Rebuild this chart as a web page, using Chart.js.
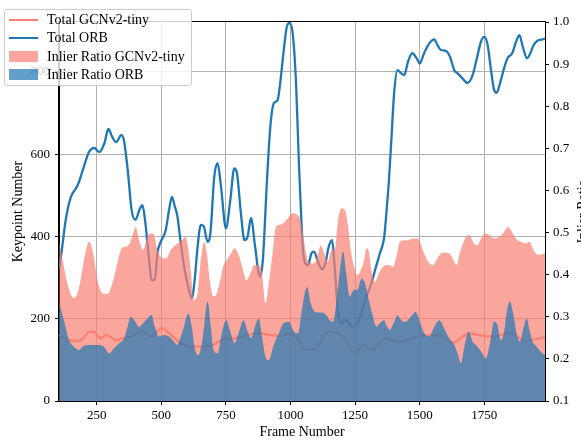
<!DOCTYPE html>
<html>
<head>
<meta charset="utf-8">
<script src="https://cdn.jsdelivr.net/npm/chart.js@4.4.1/dist/chart.umd.min.js"></script>
<style>
html, body { margin: 0; padding: 0; background: #fff; }
#wrap { position: relative; width: 581px; height: 441px; overflow: hidden; }
#chart { position: absolute; left: 0; top: 0; }
.legend { position: absolute; left: 4px; top: 9px; width: 188px; height: 77px; box-sizing: border-box;
  border: 1px solid #cccccc; border-radius: 3px; background: rgba(255,255,255,0.8); }
.item { position: absolute; left: 0; width: 100%; height: 18px; font-family: 'Liberation Serif', serif;
  font-size: 14px; color: #000; }
.item .h { position: absolute; left: 4px; width: 29px; }
.item .h.line { top: 8px; height: 2px; }
.item .h.patch { top: 3px; height: 11px; }
.item .t { position: absolute; left: 42px; top: 0; line-height: 18px; white-space: nowrap; }
</style>
</head>
<body>
<div id="wrap">
  <canvas id="chart" width="581" height="441"></canvas>
  <div class="legend">
    <div class="item" style="top:1px"><div class="h line" style="background:#fa8072"></div><div class="t">Total GCNv2-tiny</div></div>
    <div class="item" style="top:19px"><div class="h line" style="background:#1f77b4"></div><div class="t">Total ORB</div></div>
    <div class="item" style="top:38px"><div class="h patch" style="background:rgba(250,128,114,0.7)"></div><div class="t">Inlier Ratio GCNv2-tiny</div></div>
    <div class="item" style="top:56px"><div class="h patch" style="background:rgba(31,119,180,0.7)"></div><div class="t">Inlier Ratio ORB</div></div>
  </div>
</div>
<script>
// frame numbers and values
var orbFrames = [105,115,130,150,170,180,200,220,240,260,
    280,295,310,325,345,355,370,385,400,415,
    427,437,450,463,475,485,498,517,530,541,
    553,562,575,590,605,618,630,640,653,664,
    679,690,705,718,731,750,767,782,793,808,
    822,834,847,863,881,893,909,922,935,950,
    960,974,986,997,1010,1022,1033,1042,1048,1057,
    1068,1081,1091,1104,1122,1135,1148,1161,1171,1184,
    1197,1210,1223,1238,1255,1274,1294,1313,1329,1346,
    1362,1371,1381,1391,1401,1414,1429,1440,1455,1471,
    1488,1500,1517,1537,1556,1569,1582,1601,1617,1634,
    1647,1663,1685,1705,1720,1737,1750,1763,1776,1788,
    1798,1811,1828,1840,1858,1873,1886,1899,1915,1928,
    1941,1957,1976,1985];
var orbTotal = [323,367,440,496,517,530,569,605,615,605,
    627,661,642,629,646,634,561,464,440,464,
    476,440,360,294,294,360,387,415,464,496,
    471,450,385,320,275,250,300,372,428,425,
    387,408,545,578,521,420,488,565,553,456,
    391,399,445,375,302,343,537,667,723,731,
    772,853,910,919,885,764,570,440,367,335,
    330,359,363,343,320,335,375,391,326,213,
    189,197,193,180,185,213,253,286,322,359,
    395,456,537,642,748,804,796,792,825,845,
    833,820,845,869,879,865,853,851,837,804,
    796,786,773,792,829,873,885,865,804,756,
    749,772,812,833,845,873,889,861,833,845,
    865,876,879,881];

var gcnFrames = [105,140,170,195,220,240,265,285,305,325,
    350,390,420,440,460,485,505,530,560,590,
    620,660,700,740,780,830,880,920,960,1000,
    1030,1055,1081,1110,1145,1197,1223,1249,1281,1313,
    1365,1417,1468,1507,1576,1627,1692,1750,1788,1847,
    1911,1985];
var gcnTotal = [160,148,146,150,168,168,152,160,155,148,
    152,158,170,165,156,170,177,165,148,135,
    132,132,136,150,152,160,165,160,158,165,
    150,124,124,140,168,160,140,116,136,124,
    152,144,152,158,160,142,164,158,156,166,
    146,156];

var gcnRatioFrames = [105,123,143,162,182,201,220,236,253,272,
    291,311,330,347,362,378,391,401,414,430,
    446,459,469,485,504,520,537,553,580,593,
    605,615,625,638,653,666,676,689,702,715,
    731,741,754,770,783,799,816,829,845,860,
    877,890,903,916,929,942,955,972,990,1007,
    1026,1038,1050,1062,1074,1091,1107,1117,1130,1145,
    1158,1171,1184,1197,1210,1223,1233,1246,1259,1272,
    1285,1294,1303,1313,1326,1342,1358,1375,1397,1410,
    1423,1440,1455,1475,1492,1517,1537,1552,1569,1588,
    1614,1627,1643,1655,1676,1692,1708,1724,1737,1754,
    1769,1788,1808,1827,1840,1853,1872,1892,1911,1924,
    1943,1960,1985];
var gcnRatio = [.478,.419,.364,.344,.371,.435,.478,.451,.387,.356,
    .354,.380,.427,.463,.466,.475,.498,.513,.482,.459,
    .490,.498,.498,.459,.439,.439,.459,.470,.482,.490,
    .459,.403,.340,.348,.435,.478,.451,.380,.348,.356,
    .395,.423,.435,.451,.463,.447,.411,.387,.403,.423,
    .423,.403,.332,.380,.443,.510,.518,.522,.534,.546,
    .542,.530,.490,.445,.427,.427,.451,.470,.451,.431,
    .459,.459,.530,.558,.554,.514,.459,.419,.399,.411,
    .435,.463,.456,.411,.383,.403,.419,.423,.419,.443,
    .478,.482,.482,.486,.486,.451,.427,.423,.439,.452,
    .451,.439,.423,.451,.486,.494,.476,.470,.486,.498,
    .494,.486,.490,.502,.513,.506,.486,.478,.474,.478,
    .455,.447,.451];

var orbRatioFrames = [105,123,143,162,182,195,214,233,253,278,
    298,317,337,356,369,382,399,414,430,446,
    462,475,491,511,530,549,560,580,605,618,
    631,644,661,679,692,702,718,734,751,767,
    783,799,818,834,847,864,877,890,903,916,
    935,955,974,994,1013,1029,1042,1055,1065,1078,
    1094,1113,1132,1152,1165,1177,1190,1203,1216,1229,
    1246,1259,1275,1288,1300,1316,1333,1346,1362,1371,
    1384,1404,1414,1423,1440,1455,1471,1484,1497,1514,
    1537,1556,1576,1595,1614,1634,1647,1660,1672,1689,
    1705,1724,1743,1756,1772,1788,1801,1814,1827,1836,
    1849,1862,1875,1888,1901,1914,1924,1937,1953,1969,
    1985];
var orbRatio = [.332,.292,.245,.229,.221,.229,.233,.233,.233,.229,
    .213,.225,.237,.249,.276,.300,.288,.276,.285,.296,
    .304,.276,.253,.257,.253,.241,.233,.261,.308,.276,
    .221,.209,.253,.336,.276,.221,.213,.261,.292,.265,
    .237,.261,.292,.265,.249,.280,.296,.253,.205,.197,
    .233,.261,.285,.288,.265,.261,.308,.356,.371,.332,
    .312,.310,.308,.292,.288,.332,.403,.455,.403,.348,
    .364,.364,.391,.380,.348,.308,.276,.285,.292,.280,
    .269,.292,.304,.296,.288,.292,.304,.312,.296,.265,
    .253,.276,.292,.272,.249,.233,.213,.190,.225,.265,
    .241,.229,.213,.201,.237,.288,.280,.245,.265,.308,
    .336,.308,.261,.241,.272,.296,.272,.241,.229,.217,
    .209];

var xTicks = [250, 500, 750, 1000, 1250, 1500, 1750];

function points(xs, ys) {
    return xs.map(function(x, i) { return {x: x, y: ys[i]}; });
}

var FONT = "'Liberation Serif', serif";
Chart.defaults.font.family = FONT;
Chart.defaults.font.size = 13;
Chart.defaults.color = '#000';

// spines on top of the fills, and the right axis label read bottom-to-top
var framePlugin = {
    id: 'frame',
    afterDatasetsDraw: function(chart) {
        var a = chart.chartArea, ctx = chart.ctx;
        ctx.save();
        ctx.strokeStyle = '#000';
        ctx.lineWidth = 1;
        ctx.strokeRect(Math.round(a.left) - 0.5, Math.round(a.top) - 0.5,
            Math.round(a.right - a.left) + 1, Math.round(a.bottom - a.top) + 1);
        ctx.restore();
    },
    afterDraw: function(chart) {
        var a = chart.chartArea, ctx = chart.ctx;
        ctx.save();
        ctx.translate(587, (a.top + a.bottom) / 2);
        ctx.rotate(-Math.PI / 2);
        ctx.font = "14px " + FONT;
        ctx.fillStyle = '#000';
        ctx.textAlign = 'center';
        ctx.textBaseline = 'alphabetic';
        ctx.fillText('Inlier Ratio', 0, 0);
        ctx.restore();
    }
};

var common = {
    pointRadius: 0,
    pointHoverRadius: 0,
    cubicInterpolationMode: 'monotone'
};

new Chart(document.getElementById('chart').getContext('2d'), {
    type: 'line',
    data: {
        datasets: [
            Object.assign({
                label: 'Inlier Ratio ORB',
                data: points(orbRatioFrames, orbRatio),
                yAxisID: 'y1',
                borderWidth: 0,
                borderColor: 'rgba(0,0,0,0)',
                backgroundColor: 'rgba(31,119,180,0.7)',
                fill: 'start',
                order: 0
            }, common),
            Object.assign({
                label: 'Inlier Ratio GCNv2-tiny',
                data: points(gcnRatioFrames, gcnRatio),
                yAxisID: 'y1',
                borderWidth: 0,
                borderColor: 'rgba(0,0,0,0)',
                backgroundColor: 'rgba(250,128,114,0.7)',
                fill: 'start',
                order: 1
            }, common),
            Object.assign({
                label: 'Total ORB',
                data: points(orbFrames, orbTotal),
                yAxisID: 'y',
                borderColor: '#1f77b4',
                borderWidth: 2.3,
                fill: false,
                order: 2
            }, common),
            Object.assign({
                label: 'Total GCNv2-tiny',
                data: points(gcnFrames, gcnTotal),
                yAxisID: 'y',
                borderColor: '#fa8072',
                borderWidth: 2.3,
                fill: false,
                order: 3
            }, common)
        ]
    },
    options: {
        responsive: false,
        animation: false,
        devicePixelRatio: 1,
        layout: { padding: { top: 22, left: 0, right: 0, bottom: 0 } },
        plugins: { legend: { display: false }, tooltip: { enabled: false } },
        scales: {
            x: {
                type: 'linear',
                position: 'bottom',
                min: 104,
                max: 1985,
                afterFit: function(s) { s.height = 40; },
                afterBuildTicks: function(s) { s.ticks = xTicks.map(function(v) { return {value: v}; }); },
                ticks: { padding: 3, maxRotation: 0, autoSkip: false, callback: function(v) { return String(v); } },
                grid: { color: '#b0b0b0', lineWidth: 1, tickColor: '#000', tickLength: 4 },
                border: { color: '#000', width: 1 },
                title: { display: true, text: 'Frame Number', font: { size: 14 }, padding: { top: 0, bottom: 0 } }
            },
            y: {
                position: 'left',
                min: 0,
                max: 921,
                afterFit: function(s) { s.width = 59; },
                ticks: { stepSize: 200, includeBounds: false, padding: 5, callback: function(v) { return String(v); } },
                grid: { color: '#b0b0b0', lineWidth: 1, tickColor: '#000', tickLength: 4 },
                border: { color: '#000', width: 1 },
                title: { display: true, text: 'Keypoint Number', font: { size: 14 }, padding: { top: 10, bottom: 0 } }
            },
            y1: {
                position: 'right',
                min: 0.1,
                max: 1.0,
                afterFit: function(s) { s.width = 36; },
                ticks: { stepSize: 0.1, padding: 4, callback: function(v) { return v.toFixed(1); } },
                grid: { drawOnChartArea: false, tickColor: '#000', tickLength: 4 },
                border: { color: '#000', width: 1 }
            }
        }
    },
    plugins: [framePlugin]
});
</script>
</body>
</html>
